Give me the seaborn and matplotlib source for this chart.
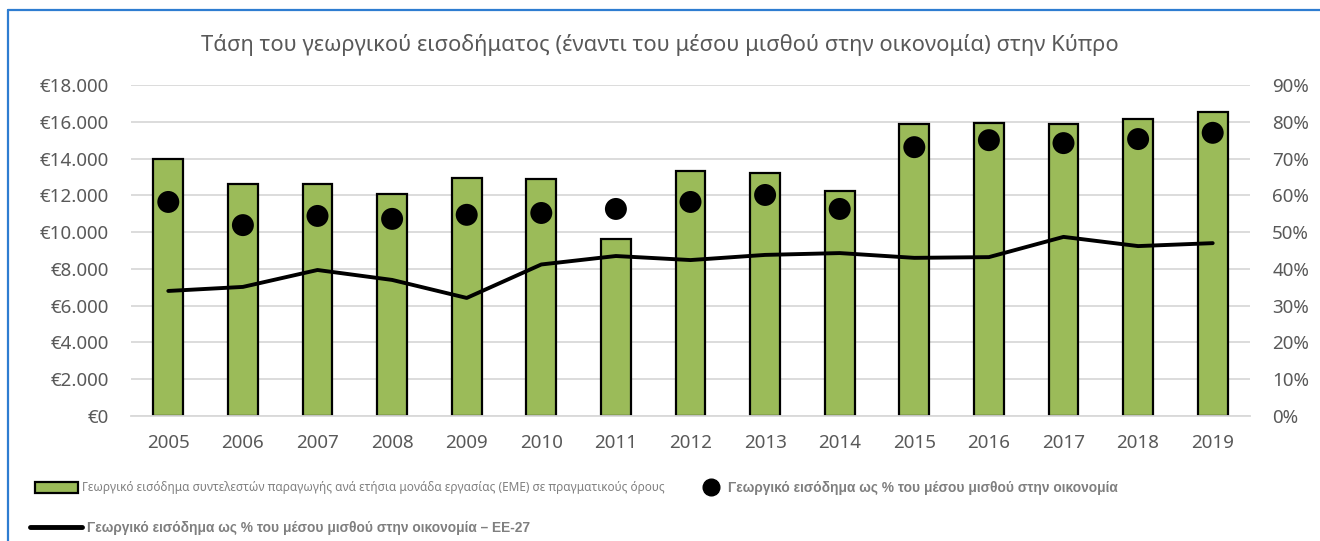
import matplotlib
matplotlib.use("Agg")
import matplotlib.pyplot as plt
import numpy as np
import seaborn as sns
from matplotlib.lines import Line2D
from matplotlib.patches import Patch
from matplotlib.ticker import FuncFormatter, MultipleLocator

# Dados
years = ["2005", "2006", "2007", "2008", "2009", "2010", "2011", "2012",
         "2013", "2014", "2015", "2016", "2017", "2018", "2019"]
income_awu = [14000, 12600, 12600, 12050, 12950, 12900, 9620, 13300,
              13200, 12250, 15880, 15950, 15880, 16150, 16530]
pct_cyprus = [58.2, 51.9, 54.4, 53.6, 54.7, 55.2, 56.3, 58.2,
              60.1, 56.3, 73.1, 75.0, 74.2, 75.3, 77.0]
pct_eu27 = [34.0, 35.1, 39.7, 37.0, 32.1, 41.2, 43.5, 42.4,
            43.8, 44.3, 43.0, 43.2, 48.7, 46.2, 47.0]

title = "Τάση του γεωργικού εισοδήματος (έναντι του μέσου μισθού στην οικονομία) στην Κύπρο"
lbl_bars = "Γεωργικό εισόδημα συντελεστών παραγωγής ανά ετήσια μονάδα εργασίας (ΕΜΕ) σε πραγματικούς όρους"
lbl_dots = "Γεωργικό εισόδημα ως % του μέσου μισθού στην οικονομία"
lbl_line = "Γεωργικό εισόδημα ως % του μέσου μισθού στην οικονομία – ΕΕ-27"

sns.set_style("white")
plt.rcParams['font.family'] = ['Noto Sans', 'DejaVu Sans']

green = '#9BBB59'
gray_txt = '#595959'
grid_col = '#D9D9D9'
bold_prop = {'family': ['Liberation Sans', 'DejaVu Sans'], 'size': 9.9, 'weight': 'bold'}

fig = plt.figure(figsize=(13.2, 5.41), dpi=100)
ax = fig.add_axes([131 / 1320, 1 - 416 / 541, 1119 / 1320, 331 / 541])

sns.barplot(x=years, y=income_awu, color=green, edgecolor='black',
            linewidth=1.6, width=0.4, saturation=1, ax=ax, zorder=2)
ax.set_ylim(0, 18000)
ax.set_xlim(-0.5, len(years) - 0.5)
ax.yaxis.set_major_locator(MultipleLocator(2000))
ax.yaxis.set_major_formatter(FuncFormatter(
    lambda v, p: "€0" if v == 0 else "€" + f"{int(v):,}".replace(",", ".")))
ax.grid(axis='y', color=grid_col, linewidth=1.3, zorder=0)
ax.set_axisbelow(True)
for s in ['top', 'left', 'right']:
    ax.spines[s].set_visible(False)
ax.spines['bottom'].set_color(grid_col)
ax.spines['bottom'].set_linewidth(1.3)
ax.tick_params(axis='x', length=0, pad=13, labelsize=13.5, labelcolor=gray_txt)
ax.tick_params(axis='y', length=0, pad=16, labelsize=13.5, labelcolor=gray_txt)
ax.set_xlabel("")
ax.set_ylabel("")

ax2 = ax.twinx()
xpos = np.arange(len(years))
sns.lineplot(x=xpos, y=pct_eu27, color='black', linewidth=2.8, ax=ax2,
             solid_joinstyle='round', solid_capstyle='round')
sns.scatterplot(x=xpos, y=pct_cyprus, color='black', s=250, edgecolor='none',
                ax=ax2, zorder=4)
ax2.set_ylim(0, 90)
ax2.set_xlim(-0.5, len(years) - 0.5)
ax2.yaxis.set_major_locator(MultipleLocator(10))
ax2.yaxis.set_major_formatter(FuncFormatter(lambda v, p: f"{int(v)}%"))
for s in ['top', 'left', 'right', 'bottom']:
    ax2.spines[s].set_visible(False)
ax2.tick_params(axis='y', length=0, pad=16, labelsize=13.5, labelcolor=gray_txt)
ax2.grid(False)
ax2.set_ylabel("")

fig.text(0.5, 1 - 45 / 541, title, ha='center', va='center',
         fontsize=15.8, color=gray_txt)

# Legendas
leg1 = fig.legend(handles=[Patch(facecolor=green, edgecolor='black', linewidth=1.6)],
                  labels=[lbl_bars], loc='center left',
                  bbox_to_anchor=(35 / 1320, 1 - 488 / 541), frameon=False,
                  borderpad=0, borderaxespad=0, handlelength=3.6, handleheight=1.0,
                  handletextpad=0.4, prop={'size': 8.5})
for t in leg1.get_texts():
    t.set_color('#808080')

leg2 = fig.legend(handles=[Line2D([], [], marker='o', color='black', linestyle='none',
                                  markersize=12)],
                  labels=[lbl_dots], loc='center left',
                  bbox_to_anchor=(703 / 1320, 1 - 488 / 541), frameon=False,
                  borderpad=0, borderaxespad=0, handlelength=1.1,
                  handletextpad=0.7, prop=bold_prop)
for t in leg2.get_texts():
    t.set_color('#7F7F7F')

leg3 = fig.legend(handles=[Line2D([], [], color='black', linewidth=3.5)],
                  labels=[lbl_line], loc='center left',
                  bbox_to_anchor=(30 / 1320, 1 - 528 / 541), frameon=False,
                  borderpad=0, borderaxespad=0, handlelength=3.8,
                  handletextpad=0.35, prop=bold_prop)
for t in leg3.get_texts():
    t.set_color('#7F7F7F')

# Moldura azul (topo e esquerda)
fig.add_artist(Line2D([8 / 1320, 1], [1 - 10 / 541, 1 - 10 / 541],
                      transform=fig.transFigure, color='#2E7DD1', linewidth=1.6))
fig.add_artist(Line2D([8 / 1320, 8 / 1320], [0, 1 - 10 / 541],
                      transform=fig.transFigure, color='#2E7DD1', linewidth=1.6))

fig.savefig("out.png", dpi=100, facecolor='white')
